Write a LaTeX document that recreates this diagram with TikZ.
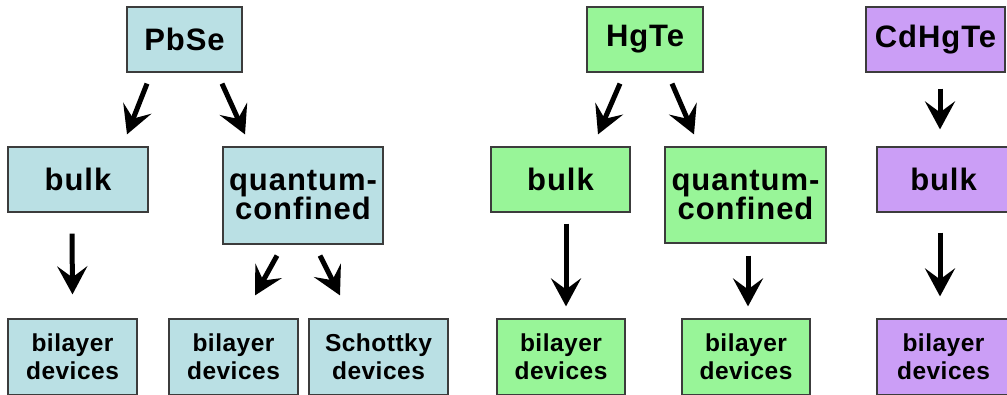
\documentclass[tikz,border=0pt]{standalone}
\usepackage{fontspec}
\setmainfont{Liberation Sans}
\usetikzlibrary{arrows.meta,calc}
\definecolor{pbblue}{RGB}{186,224,228}
\definecolor{hggreen}{RGB}{152,245,152}
\definecolor{cdpurple}{RGB}{203,158,246}
\definecolor{boxline}{RGB}{60,60,60}
\tikzset{
  box/.style={draw=boxline, line width=1.2pt, inner sep=0pt, align=center, font=\bfseries},
  big/.style={box, font=\bfseries\addfontfeature{LetterSpace=3}\fontsize{31}{29}\selectfont},
  small/.style={box, font=\bfseries\addfontfeature{LetterSpace=2}\fontsize{24.5}{28}\selectfont},
  pb/.style={fill=pbblue},
  hg/.style={fill=hggreen},
  cd/.style={fill=cdpurple},
  arr/.style={line width=5pt, -{Stealth[length=28pt,width=30pt,inset=11pt]}}
}
\begin{document}
\begin{tikzpicture}[x=1pt,y=-1pt]
\useasboundingbox (0,0) rectangle (1007,394);
\clip (0,0) rectangle (1007,394);
\fill[white] (0,0) rectangle (1007,394);
% PbSe family
\node[big,pb,minimum width=115pt,minimum height=65pt] (pbse) at (184.5,39.5) {PbSe};
\node[big,pb,minimum width=140pt,minimum height=65pt] (pbbulk) at (78,179.5) {bulk};
\node[big,pb,minimum width=160pt,minimum height=97pt] (pbqc) at (303,195.5) {quantum-\\confined};
\node[small,pb,minimum width=129pt,minimum height=76pt] (pbbil) at (72.5,357) {bilayer\\devices};
\node[small,pb,minimum width=129pt,minimum height=76pt] (pbbiltwo) at (233.5,357) {bilayer\\devices};
\node[small,pb,minimum width=139pt,minimum height=76pt] (pbsch) at (378.5,357) {Schottky\\devices};
% HgTe family
\node[big,hg,minimum width=116pt,minimum height=65pt] (hgte) at (645,39.5) {HgTe};
\node[big,hg,minimum width=139pt,minimum height=65pt] (hgbulk) at (560.5,179.5) {bulk};
\node[big,hg,minimum width=161pt,minimum height=96pt] (hgqc) at (745.5,195) {quantum-\\confined};
\node[small,hg,minimum width=128pt,minimum height=76pt] (hgbil) at (561,357) {bilayer\\devices};
\node[small,hg,minimum width=128pt,minimum height=76pt] (hgbiltwo) at (746,357) {bilayer\\devices};
% CdHgTe family
\node[big,cd,minimum width=139pt,minimum height=65pt] (cdhgte) at (935.5,39.5) {CdHgTe};
\node[big,cd,minimum width=133pt,minimum height=65pt] (cdbulk) at (943.5,179.5) {bulk};
\node[small,cd,minimum width=133pt,minimum height=76pt] (cdbil) at (943.5,357) {bilayer\\devices};
% arrows
\draw[arr] ($(pbse.south)+(-37.5,11)$) -- ($(pbbulk.north)+(49,-12)$);
\draw[arr] ($(pbse.south)+(37.5,11)$) -- ($(pbqc.north)+(-58,-12)$);
\draw[arr] ($(pbbulk.south)+(-6,21)$) -- ($(pbbil.north)+(0,-24)$);
\draw[arr] ($(pbqc.south)+(-26,11)$) -- ($(pbbiltwo.north)+(21.5,-23)$);
\draw[arr] ($(pbqc.south)+(17,11)$) -- ($(pbsch.north)+(-38.5,-23)$);
\draw[arr] ($(hgte.south)+(-25,11)$) -- ($(hgbulk.north)+(37.5,-12)$);
\draw[arr] ($(hgte.south)+(27,11)$) -- ($(hgqc.north)+(-51.5,-12)$);
\draw[arr] ($(hgbulk.south)+(5.5,11)$) -- ($(hgbil.north)+(5,-12)$);
\draw[arr] ($(hgqc.south)+(2.5,12)$) -- ($(hgbiltwo.north)+(2,-12)$);
\draw[arr] ($(cdhgte.south)+(4.5,16)$) -- ($(cdbulk.north)+(-3.5,-17)$);
\draw[arr] ($(cdbulk.south)+(-3.5,20)$) -- ($(cdbil.north)+(-3.5,-22)$);
\end{tikzpicture}
\end{document}
